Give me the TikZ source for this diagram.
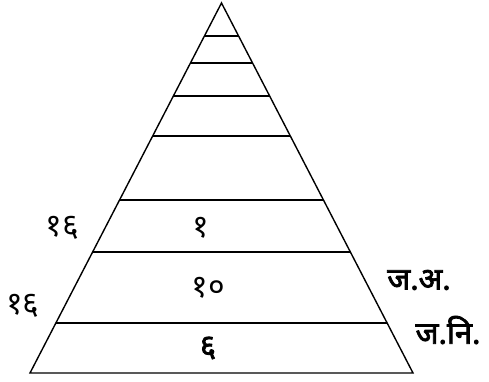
\documentclass[tikz,border=0pt]{standalone}
\usepackage{fontspec}
\newfontfamily\devfont[Script=Devanagari]{Noto Sans}
\newfontfamily\devboldfont[Script=Devanagari, FakeBold=2.5]{Noto Sans}
\usepackage{tikz}
\usetikzlibrary{calc}
\tikzset{
  tier/.style={line width=1.4pt, black},
  numlabel/.style={font=\devfont\fontsize{32}{36}\selectfont, inner sep=0pt},
  boldlabel/.style={font=\devboldfont\fontsize{31}{35}\selectfont, inner sep=0pt}
}
\begin{document}
\begin{tikzpicture}[x=1pt, y=-1pt]
  \useasboundingbox (0,0) rectangle (489,381);

  % pyramid outline
  \coordinate (apex)  at (221.5,3);
  \coordinate (left)  at (30,373);
  \coordinate (right) at (413,373);
  \draw[tier, line join=miter] (left) -- (apex) -- (right) -- cycle;

  % tiers
  \foreach \t in {0.089, 0.162, 0.251, 0.359, 0.532, 0.673, 0.865}
    \draw[tier] ($(apex)!\t!(left)$) -- ($(apex)!\t!(right)$);

  % labels
  \node[numlabel]  (upperleft)  at (62,228)  {१६};
  \node[numlabel]  (lowerleft)  at (23,306)  {१६};
  \node[numlabel]  (one)        at (201,228) {१};
  \node[numlabel]  (ten)        at (208,288) {१०};
  \node[boldlabel] (six)        at (208,348) {६};
  \node[boldlabel] (ja)         at (419,280) {ज.अ.};
  \node[boldlabel] (jani)       at (448,330) {ज.नि.};
\end{tikzpicture}
\end{document}
